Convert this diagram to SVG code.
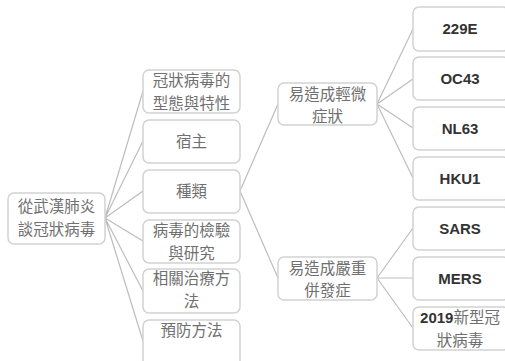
<svg xmlns="http://www.w3.org/2000/svg" width="505" height="361" viewBox="0 0 505 361">
<style>
.box{fill:#fff;stroke:#d2d2d2;stroke-width:1.5}
.zh{font-family:"Noto Sans CJK TC","Noto Sans CJK SC",sans-serif;font-size:15.5px;fill:#707070;text-anchor:middle}
.en{font-family:"Liberation Sans","Open Sans",sans-serif;font-size:15px;font-weight:bold;fill:#333;text-anchor:middle}
.num{font-family:"Liberation Sans",sans-serif;font-size:15px;font-weight:bold;fill:#333}
.con{fill:none;stroke:#bdbdbd;stroke-width:1.2}
</style>
<rect width="505" height="361" fill="#fff"/>
<g id="connectors" class="con">
<path d="M105,218L143,91M105,218L143,141M105,218L143,191M105,218L143,241M105,218L143,291M105,218L143,341"/>
<path d="M240,191L278,104M240,191L278,278"/>
<path d="M377,104L413,29M377,104L413,79M377,104L413,128M377,104L413,178"/>
<path d="M377,278L413,228M377,278L413,278M377,278L413,328"/>
</g>
<g id="root"><rect class="box" x="8" y="193" width="97" height="51" rx="6"/><text class="zh" x="56.5" y="212">從武漢肺炎</text><text class="zh" x="56.5" y="235">談冠狀病毒</text></g>
<g id="n1"><rect class="box" x="143" y="70" width="97" height="43" rx="6"/><text class="zh" x="191.5" y="86">冠狀病毒的</text><text class="zh" x="191.5" y="108.5">型態與特性</text></g>
<g id="n2"><rect class="box" x="143" y="120" width="97" height="43" rx="6"/><text class="zh" x="191.5" y="147">宿主</text></g>
<g id="n3"><rect class="box" x="143" y="170" width="97" height="43" rx="6"/><text class="zh" x="191.5" y="197">種類</text></g>
<g id="n4"><rect class="box" x="143" y="220" width="97" height="43" rx="6"/><text class="zh" x="191.5" y="236">病毒的檢驗</text><text class="zh" x="191.5" y="258.5">與研究</text></g>
<g id="n5"><rect class="box" x="143" y="269" width="97" height="44" rx="6"/><text class="zh" x="191.5" y="284">相關治療方</text><text class="zh" x="191.5" y="306.5">法</text></g>
<g id="n6"><rect class="box" x="143" y="320" width="97" height="48" rx="6"/><text class="zh" x="191.5" y="336">預防方法</text></g>
<g id="mild"><rect class="box" x="278" y="83" width="99" height="42" rx="6"/><text class="zh" x="327.5" y="99.5">易造成輕微</text><text class="zh" x="327.5" y="121.5">症狀</text></g>
<g id="severe"><rect class="box" x="278" y="257" width="99" height="43" rx="6"/><text class="zh" x="327.5" y="273.5">易造成嚴重</text><text class="zh" x="327.5" y="295.5">併發症</text></g>
<g id="v229e"><rect class="box" x="413" y="7" width="96" height="44" rx="6"/><text class="en" x="460" y="34">229E</text></g>
<g id="voc43"><rect class="box" x="413" y="57" width="96" height="43" rx="6"/><text class="en" x="460" y="84">OC43</text></g>
<g id="vnl63"><rect class="box" x="413" y="107" width="96" height="43" rx="6"/><text class="en" x="460" y="134">NL63</text></g>
<g id="vhku1"><rect class="box" x="413" y="157" width="96" height="43" rx="6"/><text class="en" x="460" y="184">HKU1</text></g>
<g id="vsars"><rect class="box" x="413" y="207" width="96" height="43" rx="6"/><text class="en" x="460" y="234">SARS</text></g>
<g id="vmers"><rect class="box" x="413" y="257" width="96" height="43" rx="6"/><text class="en" x="460" y="284">MERS</text></g>
<g id="v2019"><rect class="box" x="413" y="307" width="96" height="43" rx="6"/><text class="zh" x="460" y="323"><tspan class="num">2019</tspan>新型冠</text><text class="zh" x="460" y="345.5">狀病毒</text></g>
</svg>
